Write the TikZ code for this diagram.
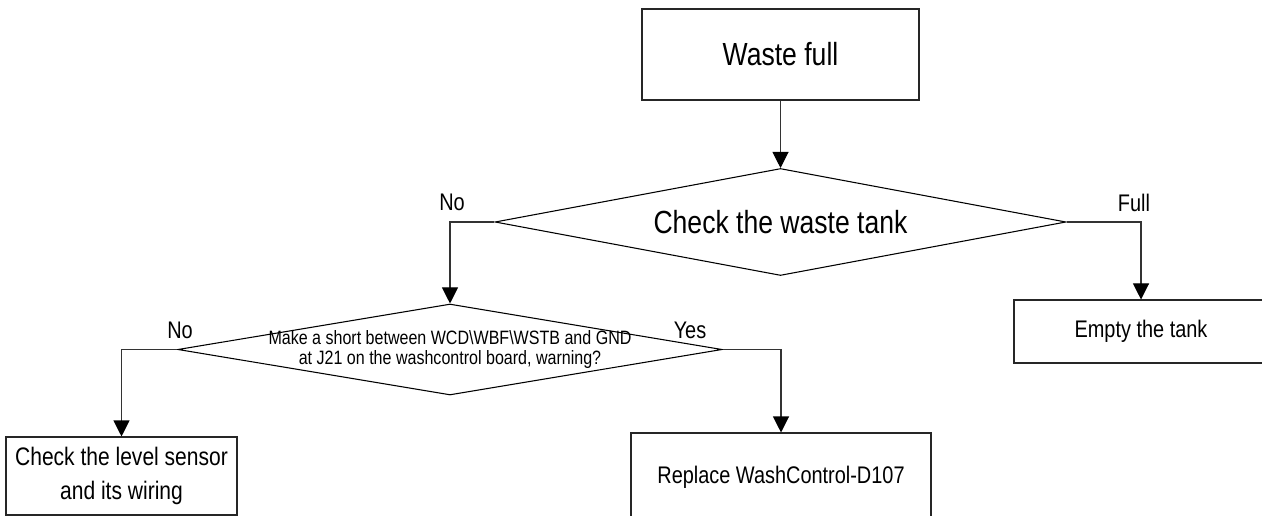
\documentclass[tikz,border=0pt]{standalone}
\usepackage{fontspec}
\setmainfont{Liberation Sans}[FakeStretch=0.83]
\usetikzlibrary{shapes.geometric,arrows.meta}

\tikzset{
  box/.style={draw=black!85, line width=0.8pt, rectangle, inner sep=0pt, align=center},
  decision/.style={draw, line width=0.8pt, diamond, inner sep=0pt},
  arr/.style={line width=0.8pt, draw=black!80, -{Triangle[width=12pt,length=12pt,color=black]}},
  lbl/.style={inner sep=0pt, font=\fontsize{18pt}{20pt}\selectfont},
}

\begin{document}
\begin{tikzpicture}[x=0.75pt,y=-0.75pt]
    \useasboundingbox (0,0) rectangle (1262,516);
    % Start
    \node[box, minimum width=207.75pt, minimum height=68.25pt,
          font=\fontsize{24pt}{28pt}\selectfont] (full) at (780.5,54.5) {Waste full};
    % First decision
    \node[decision, shape aspect=5.34, minimum width=428.25pt, minimum height=80.25pt,
          font=\fontsize{24pt}{28pt}\selectfont] (tank) at (780.5,222) {Check the waste tank};
    \node[box, minimum width=190.5pt, minimum height=47.25pt,
          font=\fontsize{18pt}{20pt}\selectfont] (empty) at (1141,331.5) {Empty the tank};
    % Second decision
    \node[decision, minimum width=408pt, minimum height=68.25pt,
          label={[align=center, inner sep=0pt, font=\fontsize{14.5pt}{15pt}\selectfont]center:{Make a short between WCD\textbackslash WBF\textbackslash WSTB and GND\\at J21 on the washcontrol board, warning?}}]
          (short) at (450,349.5) {};
    \node[box, minimum width=173.25pt, minimum height=58.5pt,
          font=\fontsize{19pt}{25pt}\selectfont] (level) at (121.5,476) {Check the level sensor\\and its wiring};
    \node[box, minimum width=225pt, minimum height=66pt,
          font=\fontsize{18pt}{20pt}\selectfont] (replace) at (781,477) {Replace WashControl-D107};
    % Connectors
    \draw[arr] (full) -- (tank);
    \draw[arr] (tank.west) -| (short.north);
    \draw[arr] (tank.east) -| (empty.north);
    \draw[arr] (short.west) -| (level.north);
    \draw[arr] (short.east) -| (replace.north);
    % Branch labels
    \node[lbl] (no1) at (452,202) {No};
    \node[lbl] (full1) at (1134,203) {Full};
    \node[lbl] (no2) at (180,330) {No};
    \node[lbl] (yes2) at (690,330) {Yes};
\end{tikzpicture}
\end{document}
